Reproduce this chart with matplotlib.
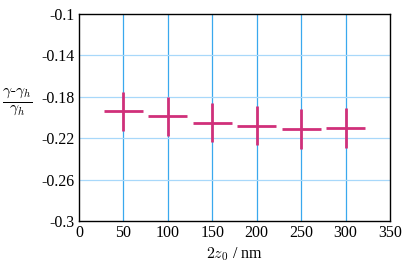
import matplotlib
matplotlib.use('Agg')
import matplotlib.pyplot as plt
import numpy as np

# data
x = [50, 100, 150, 200, 250, 300]
y = [-0.194, -0.199, -0.205, -0.208, -0.211, -0.210]
yerr = [0.019, 0.019, 0.019, 0.019, 0.019, 0.019]
xerr = [22, 22, 22, 22, 22, 22]

xticks = [0, 50, 100, 150, 200, 250, 300, 350]
yticks = [-0.1, -0.14, -0.18, -0.22, -0.26, -0.3]
ytick_labels = ['-0.1', '-0.14', '-0.18', '-0.22', '-0.26', '-0.3']

plt.rcParams['font.family'] = ['Liberation Serif', 'DejaVu Serif']
plt.rcParams['mathtext.fontset'] = 'cm'
plt.rcParams['font.size'] = 11.5

fig = plt.figure(figsize=(4.15, 2.63), dpi=100)
ax = fig.add_axes([79 / 415, 1 - 221 / 263, (390 - 79) / 415, (221 - 14) / 263])

for xv in xticks[1:-1]:
    ax.axvline(xv, color='#3aa8ee', lw=0.9, zorder=1)
for yv in yticks[1:-1]:
    ax.axhline(yv, color='#a8d8fa', lw=0.9, zorder=1)

ax.errorbar(x, y, xerr=xerr, yerr=yerr, fmt='none', ecolor='#d0307a',
            elinewidth=2, capsize=0, zorder=3)

ax.set_xlim(0, 350)
ax.set_ylim(-0.3, -0.1)
ax.set_xticks(xticks)
ax.set_yticks(yticks)
ax.set_yticklabels(ytick_labels)
ax.tick_params(length=0, pad=3)
for s in ax.spines.values():
    s.set_linewidth(1.0)
    s.set_color('black')

ax.set_xlabel(r'$2z_0$ / nm', labelpad=3)
ax.set_ylabel(r'$\frac{\gamma\text{-}\gamma_h}{\gamma_h}$', rotation=0, fontsize=16)
ax.yaxis.set_label_coords(-0.2, 0.5)

fig.savefig('out.png', dpi=100)
